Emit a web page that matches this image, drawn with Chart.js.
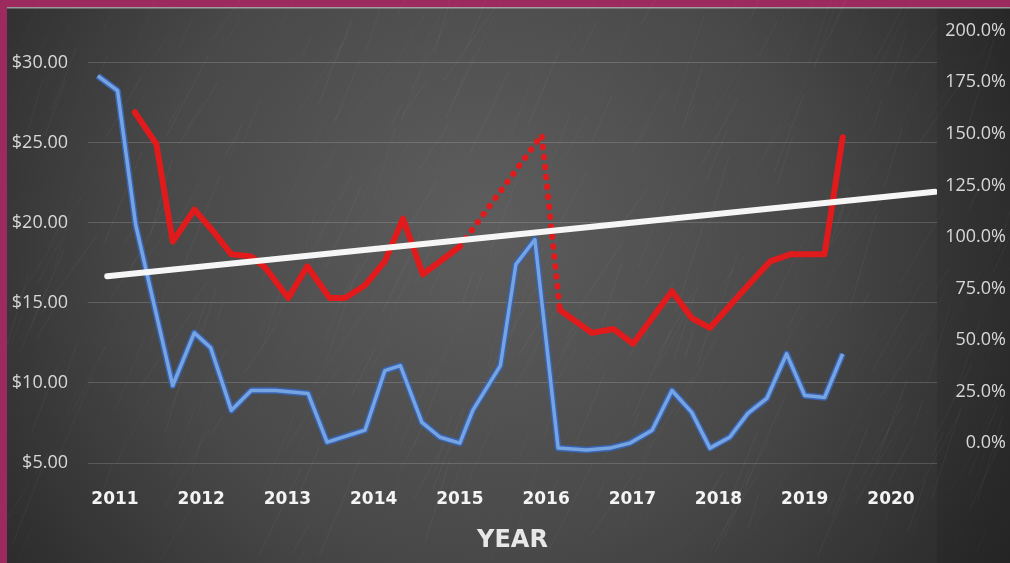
<!DOCTYPE html>
<html>
<head>
<meta charset="utf-8">
<script src="https://cdn.jsdelivr.net/npm/chart.js@4.4.0/dist/chart.umd.min.js"></script>
<style>
  html, body { margin: 0; padding: 0; background: #9c2a5f; }
  #wrap { width: 1010px; height: 563px; position: relative; }
</style>
</head>
<body>
<div id="wrap"><canvas id="priceChart"></canvas></div>
<script>
// Axis ticks
const years = [2011, 2012, 2013, 2014, 2015, 2016, 2017, 2018, 2019, 2020];
const priceTicks = [5, 10, 15, 20, 25, 30];
const changeTicks = [0, 25, 50, 75, 100, 125, 150, 175, 200];

// Price series (left axis, dollars)
const priceDates = [2010.80, 2011.03, 2011.24, 2011.67, 2011.92, 2012.11, 2012.35, 2012.58, 2012.86, 2013.24,
  2013.46, 2013.90, 2014.13, 2014.31, 2014.56, 2014.77, 2015.00, 2015.15, 2015.47, 2015.65,
  2015.87, 2016.14, 2016.47, 2016.74, 2016.97, 2017.23, 2017.46, 2017.69, 2017.90, 2018.13,
  2018.34, 2018.56, 2018.79, 2019.00, 2019.23, 2019.44];
const priceValues = [29.19, 28.26, 19.89, 9.84, 13.13, 12.20, 8.29, 9.53, 9.53, 9.34,
  6.30, 7.05, 10.77, 11.08, 7.54, 6.61, 6.24, 8.29, 11.08, 17.41,
  18.96, 5.93, 5.81, 5.93, 6.24, 7.05, 9.53, 8.16, 5.93, 6.61,
  8.10, 9.03, 11.82, 9.22, 9.09, 11.82];

// Change series (right axis, percent)
const changeDates = [2011.23, 2011.48, 2011.67, 2011.92, 2012.14, 2012.35, 2012.58, 2012.74, 2013.01, 2013.23,
  2013.49, 2013.67, 2013.90, 2014.13, 2014.34, 2014.57, 2015.00, 2015.95, 2016.16, 2016.53,
  2016.78, 2017.01, 2017.46, 2017.69, 2017.90, 2018.28, 2018.60, 2018.83, 2019.23, 2019.44];
const changeValues = [160.5, 145.1, 97.8, 113.3, 102.7, 91.6, 90.6, 85.3, 70.4, 85.8,
  70.4, 70.4, 76.6, 88.2, 108.9, 81.9, 95.4, 149.4, 64.6, 53.5,
  55.4, 48.2, 73.7, 60.7, 55.9, 73.7, 88.2, 91.6, 91.6, 148.4];
// stretch of the change line drawn dotted
const dottedStart = 2015.00;
const dottedEnd = 2016.16;

// Trend line (right axis)
const trendDates = [2010.91, 2020.51];
const trendValues = [81.0, 121.9];

const toPoints = (xs, ys) => xs.map((x, i) => ({ x: x, y: ys[i] }));

// maroon frame + chalkboard fill behind the chart
const chalkboard = {
  id: 'chalkboard',
  beforeDraw(chart) {
    const { ctx, width, height, chartArea } = chart;
    ctx.save();
    ctx.fillStyle = '#9c2a5f';
    ctx.fillRect(0, 0, width, height);

    const g = ctx.createRadialGradient(480, 220, 20, 480, 250, 640);
    g.addColorStop(0, '#5c5c5c');
    g.addColorStop(0.5, '#484848');
    g.addColorStop(1, '#242424');
    ctx.fillStyle = g;
    ctx.fillRect(7, 7, width - 7, height - 7);

    // slightly darker strip right of the plot
    ctx.fillStyle = 'rgba(0,0,0,0.07)';
    ctx.fillRect(chartArea.right, 8, width - chartArea.right, height - 8);

    // chalk scratches
    let seed = 7;
    const rnd = () => { seed = (seed * 16807) % 2147483647; return seed / 2147483647; };
    ctx.lineWidth = 0.7;
    for (let i = 0; i < 420; i++) {
      const x = 7 + rnd() * (width - 7);
      const y = 8 + rnd() * (height - 8);
      const len = 15 + rnd() * 90;
      const ang = -0.95 - rnd() * 0.35;
      ctx.strokeStyle = 'rgba(255,255,255,' + (0.02 + rnd() * 0.05).toFixed(3) + ')';
      ctx.beginPath();
      ctx.moveTo(x, y);
      ctx.lineTo(x + Math.cos(ang) * len, y + Math.sin(ang) * len);
      ctx.stroke();
    }

    ctx.fillStyle = 'rgba(190,190,190,0.75)';
    ctx.fillRect(7, 7, width - 7, 1.5);
    ctx.restore();
  }
};

const tickFont = { family: '"Open Sans", sans-serif', size: 18 };

new Chart(document.getElementById('priceChart'), {
  type: 'line',
  data: {
    datasets: [
      {
        label: 'Trend',
        data: toPoints(trendDates, trendValues),
        yAxisID: 'yChange',
        borderColor: '#f6f6f6',
        borderWidth: 6,
        borderCapStyle: 'round',
        order: 1
      },
      {
        label: 'Change',
        data: toPoints(changeDates, changeValues),
        yAxisID: 'yChange',
        borderColor: '#e11a1c',
        borderWidth: 6,
        borderCapStyle: 'round',
        borderJoinStyle: 'round',
        segment: {
          borderDash: ctx => (ctx.p0.parsed.x >= dottedStart && ctx.p1.parsed.x <= dottedEnd) ? [0.5, 9.5] : undefined
        },
        order: 2
      },
      {
        label: 'Price',
        data: toPoints(priceDates, priceValues),
        yAxisID: 'yPrice',
        borderColor: '#76a3e2',
        borderWidth: 3.5,
        borderJoinStyle: 'round',
        order: 3
      },
      {
        label: 'Price outline',
        data: toPoints(priceDates, priceValues),
        yAxisID: 'yPrice',
        borderColor: '#3864b0',
        borderWidth: 6.5,
        borderJoinStyle: 'round',
        order: 4
      }
    ]
  },
  options: {
    responsive: true,
    maintainAspectRatio: false,
    animation: false,
    layout: { padding: { top: 28, left: 0, right: 4, bottom: 0 } },
    elements: { point: { radius: 0 }, line: { tension: 0 } },
    plugins: {
      legend: { display: false },
      tooltip: { enabled: false }
    },
    scales: {
      x: {
        type: 'linear',
        position: 'bottom',
        min: 2010.687,
        max: 2020.534,
        afterBuildTicks: s => { s.ticks = years.map(v => ({ value: v })); },
        afterFit: s => { s.height = 100; },
        grid: { display: false },
        border: { display: false },
        ticks: {
          color: '#f4f4f4',
          font: { family: '"DejaVu Sans", sans-serif', size: 17, weight: 'bold' },
          padding: 18,
          maxRotation: 0,
          autoSkip: false,
          callback: v => String(v)
        },
        title: {
          display: true,
          text: 'YEAR',
          color: '#e8e8e8',
          font: { family: '"DejaVu Sans", sans-serif', size: 24, weight: 'bold' },
          padding: { top: 0, bottom: 8 }
        }
      },
      yPrice: {
        type: 'linear',
        position: 'left',
        min: 5,
        max: 32,
        afterBuildTicks: s => { s.ticks = priceTicks.map(v => ({ value: v })); },
        afterFit: s => { s.width = 88; },
        grid: { color: 'rgba(255,255,255,0.16)', lineWidth: 1, drawTicks: false },
        border: { display: false },
        ticks: {
          color: '#d8d8d8',
          font: tickFont,
          padding: 20,
          callback: v => '$' + v.toFixed(2)
        }
      },
      yChange: {
        type: 'linear',
        position: 'right',
        min: -9.6,
        max: 200,
        afterBuildTicks: s => { s.ticks = changeTicks.map(v => ({ value: v })); },
        afterFit: s => { s.width = 69; },
        grid: { display: false, drawTicks: false },
        border: { display: false },
        ticks: {
          color: '#d8d8d8',
          font: tickFont,
          padding: 4,
          crossAlign: 'far',
          callback: v => v.toFixed(1) + '%'
        }
      }
    }
  },
  plugins: [chalkboard]
});
</script>
</body>
</html>
